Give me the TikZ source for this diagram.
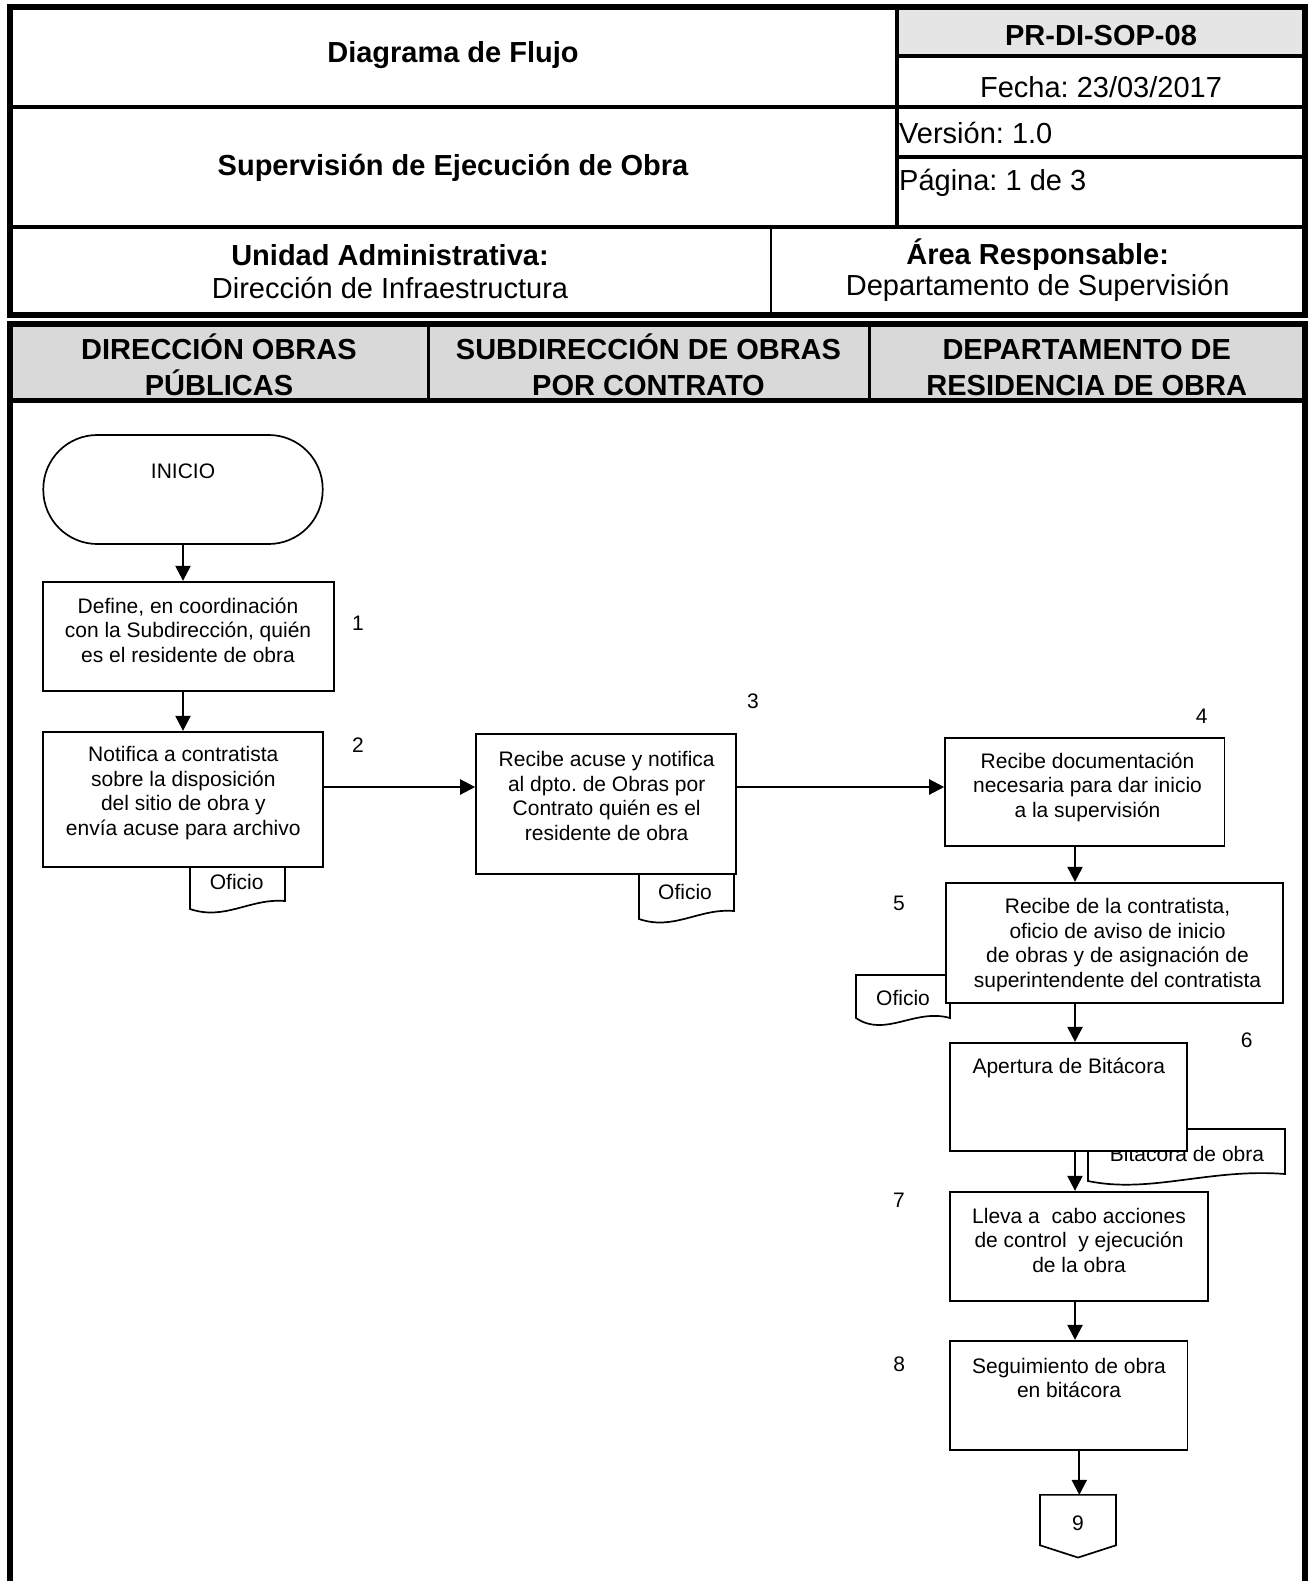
\documentclass[tikz,border=0pt]{standalone}
\usepackage{fontspec}
\setmainfont{Liberation Sans}
\usetikzlibrary{arrows.meta}
\frenchspacing
\tikzset{
  boxshape/.style={draw, line width=1.7pt, fill=white, inner sep=0pt},
  txt/.style={font=\fontsize{21}{24.5}\selectfont, align=center, inner sep=0pt},
  hd/.style={font=\fontsize{29}{34}\selectfont, inner sep=0pt},
  hdb/.style={font=\fontsize{29}{34}\selectfont\bfseries, inner sep=0pt},
  arr/.style={line width=2.2pt, -{Triangle[length=15pt,width=15pt]}},
  docpath/.style={draw, line width=1.7pt, fill=white},
}
\begin{document}
\begin{tikzpicture}[x=1pt,y=-1pt]
\useasboundingbox (0,0) rectangle (1307,1581);
% ---------- header ----------
\fill[black!10] (897,7) rectangle (1304.5,56);
\draw[line width=6pt] (9.7,7) rectangle (1304.5,314.5);
\draw[line width=4.5pt] (9.7,107) -- (1304.5,107);
\draw[line width=4.5pt] (9.7,227) -- (1304.5,227);
\draw[line width=4pt] (897,7) -- (897,227);
\draw[line width=4pt] (897,56) -- (1304.5,56);
\draw[line width=4pt] (897,157) -- (1304.5,157);
\draw[line width=2.5pt] (771,227) -- (771,314.5);
\node[hdb] (h1) at (453,55) {Diagrama de Flujo};
\node[hdb] (h2) at (453,168) {Supervisión de Ejecución de Obra};
\node[hdb] (h3) at (1101,36) {PR-DI-SOP-08};
\node[hd] (h4) at (1101,87) {Fecha: 23/03/2017};
\node[hd, anchor=west] (h5) at (899,133) {Versión: 1.0};
\node[hd, anchor=west] (h6) at (899,183) {Página: 1 de 3};
\node[hdb] (h7) at (390,255) {Unidad Administrativa:};
\node[hd] (h8) at (390,288) {Dirección de Infraestructura};
\node[hdb] (h9) at (1037.7,255) {Área Responsable:};
\node[hd] (h10) at (1037.7,288) {Departamento de Supervisión};
% ---------- lanes ----------
\fill[black!15] (9.7,324) rectangle (1304.5,400.5);
\node[hdb, anchor=base] (l1a) at (219,359.5) {DIRECCIÓN OBRAS};
\node[hdb, anchor=base] (l1b) at (219,395) {PÚBLICAS};
\node[hdb, anchor=base] (l2a) at (648.5,359.5) {SUBDIRECCIÓN DE OBRAS};
\node[hdb, anchor=base] (l2b) at (648.5,395) {POR CONTRATO};
\node[hdb, anchor=base] (l3a) at (1086.7,359.5) {DEPARTAMENTO DE};
\node[hdb, anchor=base] (l3b) at (1086.7,395) {RESIDENCIA DE OBRA};
\draw[line width=6pt] (9.7,1590) -- (9.7,324) -- (1304.5,324) -- (1304.5,1590);
\draw[line width=5pt] (9.7,400.5) -- (1304.5,400.5);
\draw[line width=3pt] (428,324) -- (428,400.5);
\draw[line width=3pt] (869,324) -- (869,400.5);
% ---------- documents (behind boxes) ----------
\draw[docpath] (190,867) -- (190,909) .. controls (225,921) and (250,898) .. (285,901) -- (285,867) -- cycle;
\node[txt] (d2) at (236.7,881.7) {Oficio};
\draw[docpath] (639,874) -- (639,919) .. controls (674,931) and (699,908) .. (734,911) -- (734,874) -- cycle;
\node[txt] (d3) at (685,891.7) {Oficio};
\draw[docpath] (856,975) -- (856,1018) .. controls (885,1038) and (915,1008) .. (950,1018) -- (950,975) -- cycle;
\node[txt] (d5) at (903,998) {Oficio};
\draw[docpath] (1088,1129) -- (1088,1181) .. controls (1150,1194) and (1210,1168) .. (1285,1174) -- (1285,1129) -- cycle;
\node[txt] (d6) at (1187,1154) {Bitácora de obra};
% ---------- boxes ----------
\node[boxshape, rounded corners=54pt, minimum width=279.4pt, minimum height=109pt] (st) at (183,489.5) {};
\node[boxshape, minimum width=291pt, minimum height=109pt] (b1) at (188.8,636.2) {};
\node[boxshape, minimum width=279.4pt, minimum height=135.6pt] (b2) at (183,799.5) {};
\node[boxshape, minimum width=259.7pt, minimum height=140pt] (b3) at (605.9,804) {};
\node[boxshape, minimum width=279.3pt, minimum height=108pt] (b4) at (1084.7,791.7) {};
\node[boxshape, minimum width=337.6pt, minimum height=120.6pt] (b5) at (1114.5,943) {};
\node[boxshape, minimum width=236.7pt, minimum height=108.3pt] (b6) at (1068.4,1096.9) {};
\node[boxshape, minimum width=257.7pt, minimum height=109pt] (b7) at (1078.9,1246.2) {};
\node[boxshape, minimum width=237.3pt, minimum height=109.3pt] (b8) at (1068.7,1395.4) {};
\node[inner sep=0pt, minimum width=75.7pt, minimum height=62.3pt] (c9) at (1078,1526.2) {};
\draw[line width=1.7pt, fill=white] (c9.north west) -- (c9.north east) -- ([yshift=12.3pt]c9.south east) -- (c9.south) -- ([yshift=12.3pt]c9.south west) -- cycle;
% ---------- texts ----------
\node[txt] (tst) at (183,471.7) {INICIO};
\node[txt] (t1) at (188,630) {Define, en coordinación\\con la Subdirección, quién\\es el residente de obra};
\node[txt] (t2) at (183.3,793) {Notifica a contratista\\sobre la disposición\\del sitio de obra y\\envía acuse para archivo};
\node[txt] (t3) at (606.7,796) {Recibe acuse y notifica\\al dpto. de Obras por\\Contrato quién es el\\residente de obra};
\node[txt] (t4) at (1087.5,787) {Recibe documentación\\necesaria para dar inicio\\a la supervisión};
\node[txt] (t5) at (1117.5,945) {Recibe de la contratista,\\oficio de aviso de inicio\\de obras y de asignación de\\superintendente del contratista};
\node[txt] (t6) at (1068.8,1068) {Apertura de Bitácora};
\node[txt] (t7) at (1079,1240) {Lleva a~ cabo acciones\\de control~ y ejecución\\de la obra};
\node[txt] (t8) at (1069,1378) {Seguimiento de obra\\en bitácora};
\node[txt] (t9) at (1078,1523.3) {9};
% numbers
\node[txt] (n1) at (358,623) {1};
\node[txt] (n2) at (358,745) {2};
\node[txt] (n3) at (753,701.7) {3};
\node[txt] (n4) at (1201.7,716) {4};
\node[txt] (n5) at (899,903) {5};
\node[txt] (n6) at (1246.7,1040.7) {6};
\node[txt] (n7) at (899,1200) {7};
\node[txt] (n8) at (899.3,1364) {8};
% ---------- connectors ----------
\coordinate (ax1) at (183,0);
\coordinate (ax2) at (1075,0);
\coordinate (ax3) at (1079.3,0);
\coordinate (ay) at (0,787);
\draw[arr] (st.south -| ax1) -- (b1.north -| ax1);
\draw[arr] (b1.south -| ax1) -- (b2.north -| ax1);
\draw[arr] (b2.east |- ay) -- (b3.west |- ay);
\draw[arr] (b3.east |- ay) -- (b4.west |- ay);
\draw[arr] (b4.south -| ax2) -- (b5.north -| ax2);
\draw[arr] (b5.south -| ax2) -- (b6.north -| ax2);
\draw[arr] (b6.south -| ax2) -- (b7.north -| ax2);
\draw[arr] (b7.south -| ax2) -- (b8.north -| ax2);
\draw[arr] (b8.south -| ax3) -- (c9.north -| ax3);
\end{tikzpicture}
\end{document}
